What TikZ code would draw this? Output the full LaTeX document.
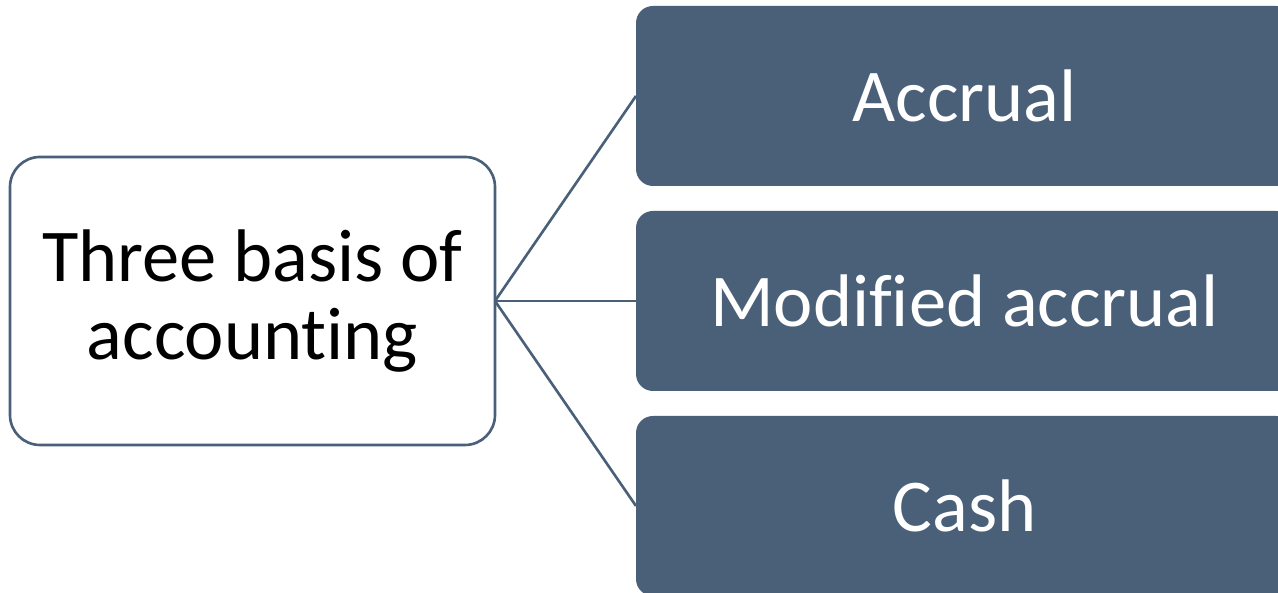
\documentclass[tikz,border=0pt]{standalone}
\usepackage{fontspec}
\setmainfont[Ligatures={NoCommon,NoContextual}]{Carlito}
\usepackage{xcolor}
\definecolor{slate}{RGB}{74,96,121}

\begin{document}
\begin{tikzpicture}
  [every node/.style={inner sep=0pt,outer sep=0pt,align=center,
     font=\fontsize{21.2}{22.2}\selectfont},
   basis/.style={draw=slate,line width=0.75pt,fill=white,rounded corners=0.3cm,
     minimum width=4.85cm,minimum height=2.88cm},
   kind/.style={fill=slate,text=white,rounded corners=0.17cm,
     minimum width=6.57cm,minimum height=1.8cm}]

  \useasboundingbox (0,0) rectangle (12.78,5.93);

  \node[basis] (b) at (2.525,2.92) {Three basis of\\accounting};
  \node[kind] (k1) at (9.645,4.97) {Accrual};
  \node[kind] (k2) at (9.645,2.92) {Modified accrual};
  \node[kind] (k3) at (9.645,0.87) {Cash};

  \foreach \to in {k1,k2,k3}
    \draw[slate,line width=0.75pt] (b.east) -- (\to.west);
\end{tikzpicture}
\end{document}
